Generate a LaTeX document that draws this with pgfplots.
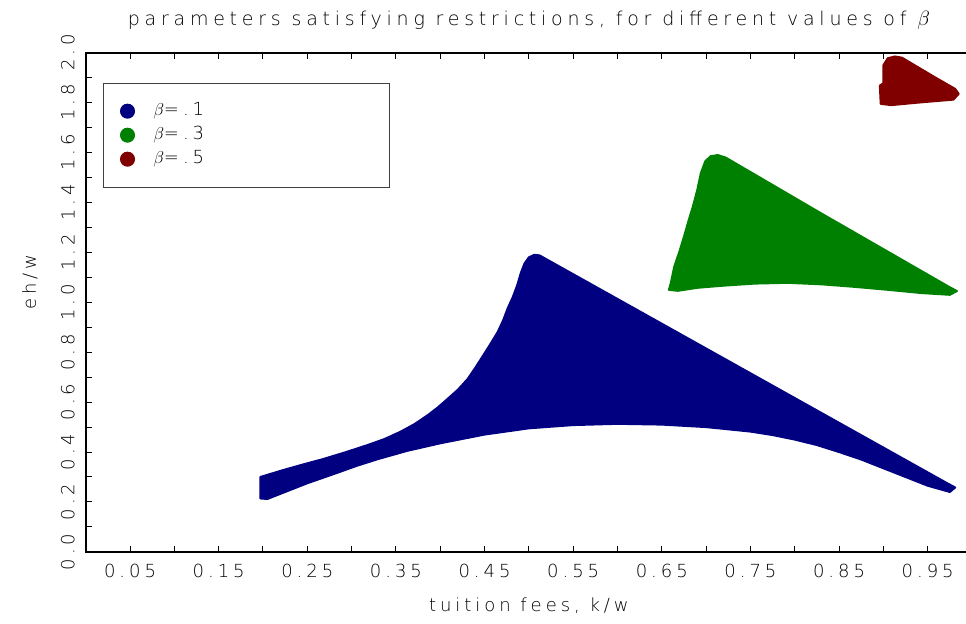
\documentclass[border=0pt]{standalone}
\usepackage{fontspec}
\IfFontExistsTF{DejaVu Sans ExtraLight}{\def\myfont{DejaVu Sans ExtraLight}}{\def\myfont{DejaVu Sans}}
\setmainfont{\myfont}[LetterSpace=22]
\newfontfamily\titlefont{\myfont}[LetterSpace=25]
\usepackage{pgfplots}
\pgfplotsset{compat=1.18}
\definecolor{cblue}{RGB}{0,0,128}
\definecolor{cgreen}{RGB}{0,128,0}
\definecolor{cred}{RGB}{128,0,0}
\begin{document}
\fontsize{18bp}{21bp}\selectfont
\begin{tikzpicture}[font=\fontsize{18bp}{21bp}\selectfont]
\begin{axis}[
  name=ax,
  scale only axis, width=886bp, height=499bp,
  xmin=0, xmax=1, ymin=0, ymax=2,
  axis line style={line width=2bp},
  every tick/.style={black, line width=1bp},
  major tick length=6bp, minor tick length=6bp,
  xtick={0.05,0.15,0.25,0.35,0.45,0.55,0.65,0.75,0.85,0.95},
  xticklabels={0.05,0.15,0.25,0.35,0.45,0.55,0.65,0.75,0.85,0.95},
  minor xtick={0.1,0.2,0.3,0.4,0.5,0.6,0.7,0.8,0.9},
  ytick={0,0.2,0.4,0.6,0.8,1.0,1.2,1.4,1.6,1.8,2.0},
  yticklabels={0.0,0.2,0.4,0.6,0.8,1.0,1.2,1.4,1.6,1.8,2.0},
  minor ytick={0.1,0.3,0.5,0.7,0.9,1.1,1.3,1.5,1.7,1.9},
  xticklabel style={yshift=-6bp},
  yticklabel style={rotate=90, anchor=south, inner ysep=11bp},
  xlabel={tuition fees, k/w},
  xlabel style={at={(axis description cs:0.5,-0.107)}, anchor=center},
  ylabel={eh/w},
  ylabel style={at={(axis description cs:-0.063,0.54)}, anchor=center},
  title={\titlefont\fontsize{19bp}{22bp}\selectfont parameters satisfying restrictions, for different values of $\beta$},
  title style={at={(axis description cs:0.5,1.052)}, anchor=center},
  legend style={at={(axis description cs:0.0195,0.94)}, anchor=north west,
    draw=black!75, line width=1bp, inner xsep=17bp, inner ysep=16bp,
    nodes={text width=200bp, text height=12bp, text depth=3bp, inner ysep=4.5bp, inner xsep=19bp}},
  legend cell align=left,
]
\addplot[fill=cblue, draw=cblue, line width=2bp, line join=round, forget plot] coordinates {
(0.197,0.300) (0.210,0.314) (0.223,0.328) (0.245,0.350) (0.268,0.372)
(0.293,0.399) (0.318,0.428) (0.337,0.452) (0.355,0.481) (0.371,0.512)
(0.386,0.548) (0.397,0.578) (0.408,0.612) (0.420,0.650) (0.431,0.693)
(0.440,0.740) (0.449,0.790) (0.457,0.835) (0.465,0.882) (0.471,0.928)
(0.476,0.975) (0.482,1.022) (0.487,1.070) (0.491,1.118) (0.495,1.155)
(0.500,1.180) (0.506,1.190) (0.512,1.188)
(0.972,0.275) (0.981,0.258) (0.975,0.240)
(0.950,0.265) (0.925,0.300) (0.900,0.335) (0.875,0.370) (0.850,0.400)
(0.825,0.428) (0.800,0.450) (0.775,0.468) (0.750,0.482) (0.700,0.500)
(0.650,0.510) (0.600,0.513) (0.550,0.508) (0.500,0.495) (0.450,0.470)
(0.400,0.435) (0.363,0.405) (0.330,0.372) (0.306,0.345) (0.280,0.312)
(0.250,0.275) (0.225,0.240) (0.205,0.212) (0.197,0.214)
} -- cycle;
\addplot[fill=cgreen, draw=cgreen, line width=2bp, line join=round, forget plot] coordinates {
(0.658,1.050) (0.660,1.075) (0.664,1.142) (0.670,1.205) (0.675,1.263)
(0.680,1.325) (0.685,1.383) (0.690,1.450) (0.694,1.517) (0.699,1.565)
(0.705,1.585) (0.713,1.590) (0.722,1.580) (0.830,1.356)
(0.974,1.062) (0.983,1.045) (0.975,1.030) (0.943,1.037) (0.905,1.050)
(0.867,1.062) (0.830,1.072) (0.792,1.078) (0.755,1.075) (0.717,1.066)
(0.690,1.058) (0.668,1.046)
} -- cycle;
\addplot[fill=cred, draw=cred, line width=2bp, line join=round, forget plot] coordinates {
(0.897,1.795) (0.896,1.868) (0.900,1.878) (0.900,1.950) (0.905,1.978)
(0.913,1.985) (0.921,1.980) (0.958,1.902) (0.981,1.855) (0.985,1.835)
(0.979,1.812) (0.939,1.800) (0.909,1.790)
} -- cycle;
\addlegendimage{only marks, mark=*, mark size=7bp, color=cblue, mark options={fill=cblue, draw=cblue}}
\addlegendentry{$\beta$=.1}
\addlegendimage{only marks, mark=*, mark size=7bp, color=cgreen, mark options={fill=cgreen, draw=cgreen}}
\addlegendentry{$\beta$=.3}
\addlegendimage{only marks, mark=*, mark size=7bp, color=cred, mark options={fill=cred, draw=cred}}
\addlegendentry{$\beta$=.5}
\end{axis}
\pgfresetboundingbox
\useasboundingbox ([shift={(-85.7bp,-71.3bp)}]ax.south west) rectangle ([shift={(-6bp,52.7bp)}]ax.north east);
\end{tikzpicture}
\end{document}
